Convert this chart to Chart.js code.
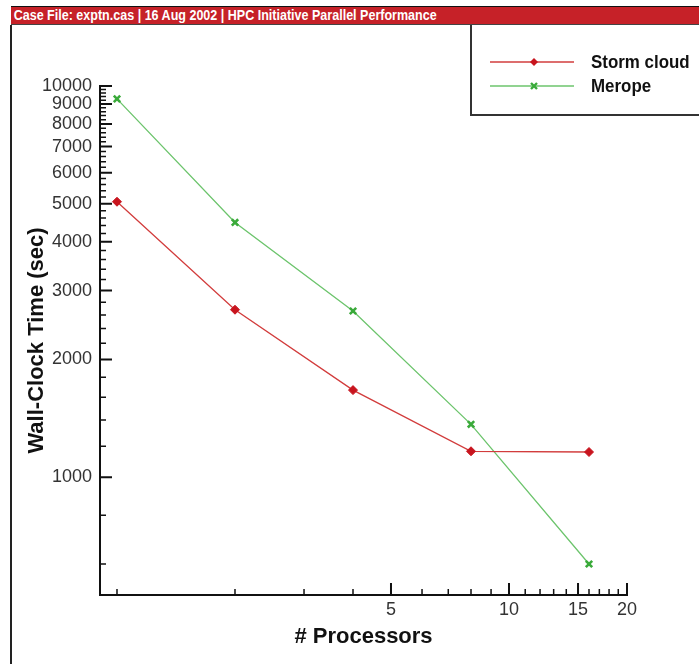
<!DOCTYPE html>
<html>
<head>
<meta charset="utf-8">
<script src="https://cdn.jsdelivr.net/npm/chart.js"></script>
<style>
  html, body { margin: 0; padding: 0; background: #fff; }
  #wrap { position: relative; width: 699px; height: 664px; overflow: hidden; }
  #chartBox { position: absolute; left: 0; top: 0; width: 699px; height: 664px; }
  #header {
    position: absolute; left: 11px; top: 6px; right: 0; height: 17px;
    background: #c62128; border-top: 1px solid #111; border-bottom: 1px solid #444;
    color: #fff; font: bold 14px 'Liberation Sans', Arial, sans-serif;
    line-height: 17px; white-space: nowrap; overflow: hidden;
  }
  #header span { display: inline-block; transform: scaleX(0.895); transform-origin: 0 50%;
    padding-left: 3px; }
  #frameLeft { position: absolute; left: 10px; top: 25px; bottom: 0; width: 0; border-left: 2px solid #222; }
  #legendBox { position: absolute; left: 470px; top: 25px; width: 240px; height: 89px;
    border-left: 2px solid #333; border-bottom: 2px solid #333; }
</style>
</head>
<body>
<div id="wrap">
  <div id="chartBox"><canvas id="scalingChart"></canvas></div>
  <div id="header"><span>Case File: exptn.cas | 16 Aug 2002 | HPC Initiative Parallel Performance</span></div>
  <div id="frameLeft"></div>
  <div id="legendBox"></div>
</div>
<script>
// Data
const processors = [1, 2, 4, 8, 16];
const stormcloudTimes = [5060, 2680, 1670, 1165, 1160];
const meropeTimes = [9270, 4480, 2660, 1365, 600];

// Axis ticks
const xMajorTicks = [5, 10, 15, 20];
const xMinorTicks = [1, 2, 3, 4, 6, 7, 8, 9, 11, 12, 13, 14, 16, 17, 18, 19];
const yMajorTicks = [1000, 2000, 3000, 4000, 5000, 6000, 7000, 8000, 9000, 10000];
const yMinorTicks = [600, 800, 1200, 1400, 1600, 1800, 2200, 2400, 2600, 2800, 3200, 3400, 3600, 3800,
  4200, 4400, 4600, 4800, 5200, 5400, 5600, 5800, 6200, 6400, 6600, 6800, 7200, 7400, 7600, 7800,
  8200, 8400, 8600, 8800, 9200, 9400, 9600, 9800];

const stormRed = '#c8141e';
const stormLine = '#d23c3c';
const meropeGreen = '#3aaa3a';
const meropeLine = '#6cc46c';

const tickFont = { family: "'Liberation Sans', Arial, sans-serif", size: 18 };
const titleFont = { family: "'Liberation Sans', Arial, sans-serif", size: 22, weight: 'bold' };

document.addEventListener('DOMContentLoaded', function() {
    initScalingChart();
});

// Inward tick marks drawn along both axes
const axisTicksPlugin = {
    id: 'axisTicks',
    beforeDatasetsDraw(chart) {
        const { ctx, chartArea, scales: { x, y } } = chart;
        ctx.save();
        ctx.strokeStyle = '#111';

        function drawY(values, len, width) {
            ctx.lineWidth = width;
            ctx.beginPath();
            values.forEach(v => {
                const py = y.getPixelForValue(v);
                ctx.moveTo(chartArea.left, py);
                ctx.lineTo(chartArea.left + len, py);
            });
            ctx.stroke();
        }
        function drawX(values, len, width) {
            ctx.lineWidth = width;
            ctx.beginPath();
            values.forEach(v => {
                const px = x.getPixelForValue(v);
                ctx.moveTo(px, chartArea.bottom);
                ctx.lineTo(px, chartArea.bottom - len);
            });
            ctx.stroke();
        }
        drawY(yMinorTicks, 6, 1.5);
        drawY(yMajorTicks, 12, 2);
        drawX(xMinorTicks, 6, 1.5);
        drawX(xMajorTicks, 12, 2);
        ctx.restore();
    }
};

// Legend in the top-right box: line sample with marker, then label
const boxLegendPlugin = {
    id: 'boxLegend',
    afterDraw(chart) {
        const ctx = chart.ctx;
        const entries = [
            { label: 'Storm cloud', y: 62, line: stormLine, mark: stormRed, style: 'diamond' },
            { label: 'Merope', y: 86, line: meropeLine, mark: meropeGreen, style: 'x' }
        ];
        ctx.save();
        entries.forEach(e => {
            ctx.strokeStyle = e.line;
            ctx.lineWidth = 1.5;
            ctx.beginPath();
            ctx.moveTo(490, e.y);
            ctx.lineTo(574, e.y);
            ctx.stroke();
            drawMarker(ctx, e.style, 534, e.y, e.mark);
            // slightly condensed label, like the original's tight bold face
            ctx.save();
            ctx.translate(591, e.y + 1);
            ctx.scale(0.89, 1);
            ctx.fillStyle = '#111';
            ctx.font = "bold 19px 'Liberation Sans', Arial, sans-serif";
            ctx.textBaseline = 'middle';
            ctx.fillText(e.label, 0, 0);
            ctx.restore();
        });
        ctx.restore();
    }
};

function drawMarker(ctx, style, x, y, color) {
    ctx.save();
    if (style === 'diamond') {
        ctx.fillStyle = color;
        ctx.beginPath();
        ctx.moveTo(x, y - 4);
        ctx.lineTo(x + 4, y);
        ctx.lineTo(x, y + 4);
        ctx.lineTo(x - 4, y);
        ctx.closePath();
        ctx.fill();
    } else {
        ctx.strokeStyle = color;
        ctx.lineWidth = 2.4;
        ctx.beginPath();
        ctx.moveTo(x - 3, y - 3);
        ctx.lineTo(x + 3, y + 3);
        ctx.moveTo(x + 3, y - 3);
        ctx.lineTo(x - 3, y + 3);
        ctx.stroke();
    }
    ctx.restore();
}

function initScalingChart() {
    const canvas = document.getElementById('scalingChart');

    const chartData = {
        labels: processors,
        datasets: [
            {
                label: 'Storm cloud',
                data: processors.map((p, i) => ({ x: p, y: stormcloudTimes[i] })),
                borderColor: stormLine,
                borderWidth: 1.3,
                pointStyle: 'rectRot',
                pointRadius: 4.5,
                pointBackgroundColor: stormRed,
                pointBorderColor: stormRed,
                pointBorderWidth: 1,
                tension: 0
            },
            {
                label: 'Merope',
                data: processors.map((p, i) => ({ x: p, y: meropeTimes[i] })),
                borderColor: meropeLine,
                borderWidth: 1.3,
                pointStyle: 'crossRot',
                pointRadius: 4.5,
                pointBorderColor: meropeGreen,
                pointBorderWidth: 2.6,
                tension: 0
            }
        ]
    };

    const chartOptions = {
        responsive: true,
        maintainAspectRatio: false,
        animation: false,
        layout: {
            padding: { top: 86, right: 72, bottom: 0, left: 0 }
        },
        scales: {
            x: {
                type: 'logarithmic',
                min: 0.905,
                max: 20,
                afterFit: function(scale) { scale.height = 69; },
                afterBuildTicks: function(scale) {
                    scale.ticks = xMajorTicks.map(v => ({ value: v }));
                },
                grid: { display: false, drawTicks: false },
                border: { display: true, color: '#111', width: 2 },
                ticks: {
                    autoSkip: false,
                    maxRotation: 0,
                    padding: 4,
                    color: '#333',
                    font: tickFont,
                    callback: v => String(v)
                },
                title: {
                    display: true,
                    text: '# Processors',
                    color: '#111',
                    font: titleFont,
                    padding: { top: 0, bottom: 14 }
                }
            },
            y: {
                type: 'logarithmic',
                min: 500,
                max: 10000,
                afterFit: function(scale) { scale.width = 100; },
                afterBuildTicks: function(scale) {
                    scale.ticks = yMajorTicks.map(v => ({ value: v }));
                },
                grid: { display: false, drawTicks: false },
                border: { display: true, color: '#111', width: 2 },
                ticks: {
                    autoSkip: false,
                    padding: 8,
                    color: '#333',
                    font: tickFont,
                    callback: v => String(v)
                },
                title: {
                    display: true,
                    text: 'Wall-Clock Time (sec)',
                    color: '#111',
                    font: titleFont,
                    padding: { top: 24, bottom: 0 }
                }
            }
        },
        plugins: {
            legend: { display: false },
            tooltip: { enabled: false }
        }
    };

    window.scalingChart = new Chart(canvas, {
        type: 'line',
        data: chartData,
        options: chartOptions,
        plugins: [axisTicksPlugin, boxLegendPlugin]
    });
}
</script>
</body>
</html>
